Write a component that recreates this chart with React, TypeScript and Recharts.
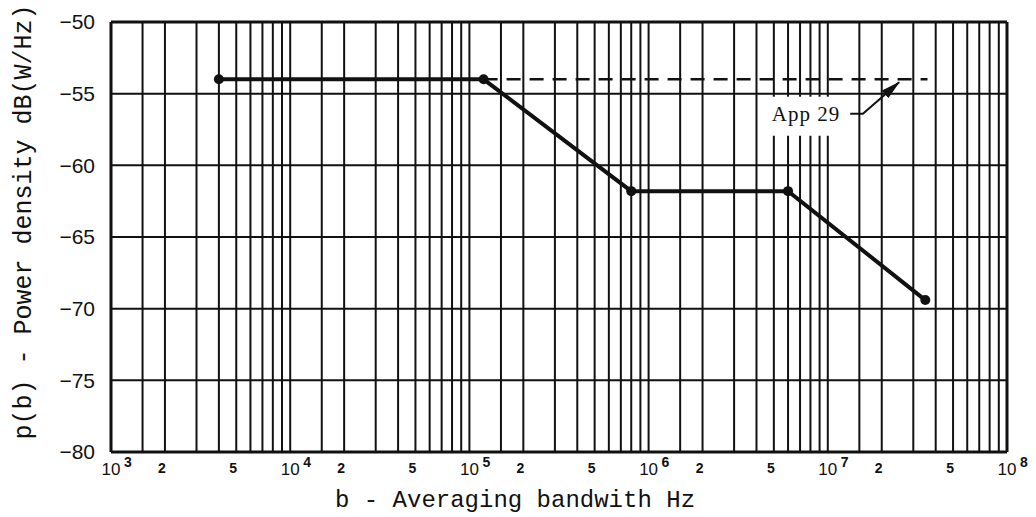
import React from 'react';
import { LineChart, Line, XAxis, YAxis, CartesianGrid, ReferenceLine, Label } from 'recharts';

// p(b) curve
const bandwidths = [4e3, 1.2e5, 8e5, 6e6, 3.5e7];
const powerDensity = [-54, -54, -61.8, -61.8, -69.4];

// App 29 dashed limit
const app29Bandwidths = [1.2e5, 3.6e7];
const app29Level = [-54, -54];

// leader from the "App 29" note up to the dashed line
const arrowBandwidths = [1.3e7, 1.57e7, 2.5e7];
const arrowLevels = [-56.4, -56.4, -54.2];

const decades = [1e3, 1e4, 1e5, 1e6, 1e7];
const gridMantissas = [1, 1.5, 2, 3, 4, 5, 6, 7, 8, 9];
const xTicks = [1e3, 2e3, 5e3, 1e4, 2e4, 5e4, 1e5, 2e5, 5e5, 1e6, 2e6, 5e6, 1e7, 2e7, 5e7, 1e8];
const yTicks = [-80, -75, -70, -65, -60, -55, -50];

const curveData = bandwidths.map((b, i) => ({ b, p: powerDensity[i] }));
const app29Data = app29Bandwidths.map((b, i) => ({ b, p: app29Level[i] }));
const arrowData = arrowBandwidths.map((b, i) => ({ b, p: arrowLevels[i] }));
const gridValues = decades.flatMap((d) => gridMantissas.map((m) => m * d));

const INK = '#111';
const MONO = '"Liberation Mono", "DejaVu Sans Mono", monospace';
const SANS = '"Liberation Sans", Arial, sans-serif';

const XTick = (props: any) => {
  const { x, y, payload } = props;
  const v: number = payload.value;
  const exp = Math.round(Math.log10(v));
  const isDecade = Math.abs(v - Math.pow(10, exp)) < 1e-6 * v;
  if (isDecade) {
    return (
      <g>
        <text x={x} y={y + 15} textAnchor="middle" fontFamily={SANS} fontSize={17} fill={INK}>
          10
        </text>
        <text x={x + 13} y={y + 7} textAnchor="start" fontFamily={SANS} fontSize={14} fontWeight="bold" fill={INK}>
          {exp}
        </text>
      </g>
    );
  }
  const mant = v / Math.pow(10, Math.floor(Math.log10(v)));
  return (
    <text x={x - 3} y={y + 13} textAnchor="middle" fontFamily={SANS} fontSize={14} fontWeight="bold" fill={INK}>
      {Math.round(mant)}
    </text>
  );
};

const App29Note = (props: any) => {
  const { x, y, index } = props;
  if (index !== 0) return null;
  return (
    <g>
      <rect x={x - 90} y={y - 17} width={92} height={39} fill="#fff" />
      <text x={x - 8} y={y + 7} textAnchor="end" fontFamily='"Liberation Serif", serif' fontSize={21} letterSpacing={1} fill={INK}>
        App 29
      </text>
    </g>
  );
};

export default function App() {
  return (
    <div style={{ position: 'absolute', left: 0, top: 0, background: '#fff' }}>
      <svg width={0} height={0} style={{ position: 'absolute' }}>
        <defs>
          <marker id="arrowHead" viewBox="0 0 16 8" refX={15} refY={4} markerWidth={10} markerHeight={5} orient="auto">
            <path d="M0,0 L16,4 L0,8 z" fill={INK} />
          </marker>
        </defs>
      </svg>
      <LineChart width={1036} height={517} margin={{ top: 22, right: 29, bottom: 0, left: 0 }}>
        <CartesianGrid vertical={false} stroke={INK} strokeWidth={2} />
        {gridValues.map((v) => (
          <ReferenceLine key={v} x={v} stroke={INK} strokeWidth={2} />
        ))}
        <ReferenceLine y={-50} stroke={INK} strokeWidth={3} />
        <ReferenceLine x={1e8} stroke={INK} strokeWidth={3} />
        <XAxis
          type="number"
          dataKey="b"
          scale="log"
          domain={[1e3, 1e8]}
          ticks={xTicks}
          allowDataOverflow
          height={65}
          tickLine={false}
          axisLine={{ stroke: INK, strokeWidth: 3 }}
          tick={<XTick />}
          interval={0}
        >
          <Label
            content={() => (
              <text x={515} y={507} textAnchor="middle" fontFamily={MONO} fontSize={24} fill={INK}>
                b - Averaging bandwith Hz
              </text>
            )}
          />
        </XAxis>
        <YAxis
          type="number"
          dataKey="p"
          domain={[-80, -50]}
          ticks={yTicks}
          width={111}
          tickLine={false}
          tickMargin={10}
          axisLine={{ stroke: INK, strokeWidth: 3 }}
          tick={{ fill: INK, fontFamily: SANS, fontSize: 21 }}
          tickFormatter={(v: number) => (v < 0 ? '\u2212' + Math.abs(v) : String(v))}
        >
          <Label
            content={() => (
              <text
                x={31}
                y={222}
                transform="rotate(-90 31 222)"
                textAnchor="middle"
                fontFamily={MONO}
                fontSize={25}
                fill={INK}
              >
                p(b) - Power density dB(W/Hz)
              </text>
            )}
          />
        </YAxis>
        <Line
          data={app29Data}
          dataKey="p"
          stroke={INK}
          strokeWidth={2.5}
          strokeDasharray="14 9"
          dot={false}
          isAnimationActive={false}
        />
        <Line
          data={arrowData}
          dataKey="p"
          type="linear"
          stroke={INK}
          strokeWidth={2}
          dot={false}
          markerEnd="url(#arrowHead)"
          label={<App29Note />}
          isAnimationActive={false}
        />
        <Line
          data={curveData}
          dataKey="p"
          type="linear"
          stroke={INK}
          strokeWidth={4}
          dot={{ r: 5, fill: INK, stroke: INK, strokeWidth: 0 }}
          isAnimationActive={false}
        />
      </LineChart>
    </div>
  );
}
